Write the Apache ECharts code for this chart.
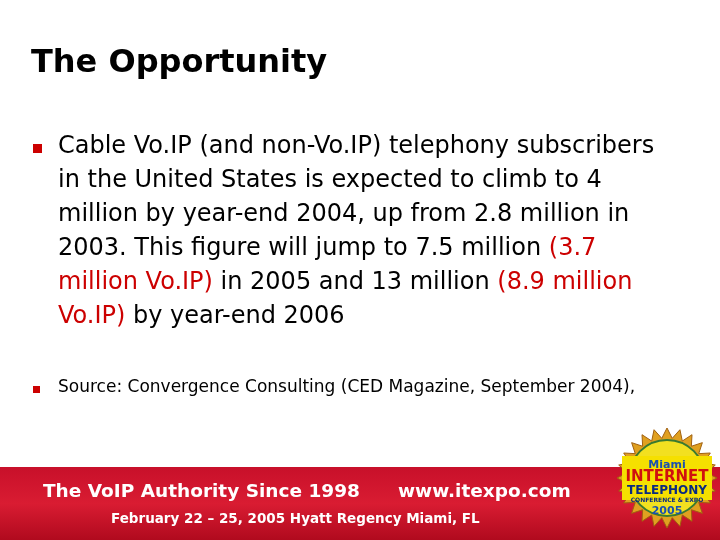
<!DOCTYPE html>
<html>
<head>
<meta charset="utf-8">
<script src="https://cdn.jsdelivr.net/npm/echarts@6/dist/echarts.min.js"></script>
<style>html,body{margin:0;padding:0;background:#fff}#main{width:720px;height:540px}</style>
</head>
<body>
<div id="main"></div>
<script>
var titleText = 'The Opportunity';
// each line: [text, isRed]
var bodyLines = [
  [['Cable Vo.IP (and non-Vo.IP) telephony subscribers', 0]],
  [['in the United States is expected to climb to 4', 0]],
  [['million by year-end 2004, up from 2.8 million in', 0]],
  [['2003. This figure will jump to 7.5 million ', 0], ['(3.7', 1]],
  [['million Vo.IP)', 1], [' in 2005 and 13 million ', 0], ['(8.9 million', 1]],
  [['Vo.IP)', 1], [' by year-end 2006', 0]]
];
var sourceText = 'Source: Convergence Consulting (CED Magazine, September 2004),';
var bannerLine1 = ['The VoIP Authority Since 1998', 'www.itexpo.com'];
var bannerLine2 = 'February 22 – 25, 2005 Hyatt Regency Miami, FL';
var badgeLines = ['Miami', 'INTERNET', 'TELEPHONY', 'CONFERENCE & EXPO', '2005'];

var chart = echarts.init(document.getElementById('main'));
var font = '"DejaVu Sans", Verdana, sans-serif';
var g = [];

g.push({type: 'text', left: 31, top: 48, style: {text: titleText, font: 'bold 32px ' + font, fill: '#000'}});

g.push({type: 'rect', shape: {x: 33, y: 144, width: 9, height: 9}, style: {fill: '#cc0000'}});
bodyLines.forEach(function (line, i) {
  var txt = line.map(function (s) { return '{' + (s[1] ? 'r' : 'k') + '|' + s[0] + '}'; }).join('');
  g.push({type: 'text', left: 58, top: 135 + i * 34, style: {
    text: txt, font: '24px ' + font,
    rich: {k: {fill: '#000', font: '24px ' + font}, r: {fill: '#cc0000', font: '24px ' + font}}
  }});
});

g.push({type: 'rect', shape: {x: 33, y: 386, width: 7, height: 7}, style: {fill: '#cc0000'}});
g.push({type: 'text', left: 58, top: 379, style: {text: sourceText, font: '17px ' + font, fill: '#000'}});

// banner
g.push({type: 'rect', shape: {x: 0, y: 467, width: 720, height: 73}, style: {
  fill: new echarts.graphic.LinearGradient(0, 0, 0, 1, [
    {offset: 0, color: '#c8102a'}, {offset: 0.5, color: '#d91c32'}, {offset: 1, color: '#b00a1e'}])
}});
var bannerStyle = {font: 'bold 18.5px ' + font, fill: '#fff', shadowColor: '#000', shadowBlur: 3, shadowOffsetX: 2, shadowOffsetY: 2};
g.push({type: 'text', left: 43, top: 483, style: Object.assign({text: bannerLine1[0]}, bannerStyle)});
g.push({type: 'text', left: 398, top: 483, style: Object.assign({text: bannerLine1[1]}, bannerStyle)});
g.push({type: 'text', left: 111, top: 512, style: Object.assign({text: bannerLine2}, bannerStyle, {font: 'bold 13.5px ' + font})});

// badge
var pts = [];
for (var k = 0; k < 48; k++) {
  var a = k / 48 * Math.PI * 2, r = k % 2 ? 40 : 50;
  pts.push([667 + r * Math.cos(a), 478 + r * Math.sin(a)]);
}
g.push({type: 'polygon', shape: {points: pts}, style: {fill: '#e0a020', stroke: '#a06010', lineWidth: 1}});
g.push({type: 'circle', shape: {cx: 667, cy: 478, r: 38}, style: {fill: '#f2e020', stroke: '#3a7a30', lineWidth: 2}});
g.push({type: 'rect', shape: {x: 622, y: 456, width: 90, height: 44}, style: {fill: '#f5e000'}});
var badgeStyle = [
  {y: 465, font: 'bold 11px ' + font, fill: '#1a50b0'},
  {y: 477, font: 'bold 15px ' + font, fill: '#d01010'},
  {y: 491, font: 'bold 12px ' + font, fill: '#0a2a80'},
  {y: 500, font: 'bold 6px ' + font, fill: '#0a2a80'},
  {y: 511, font: 'bold 11px ' + font, fill: '#1a50b0'}
];
badgeLines.forEach(function (t, i) {
  var s = badgeStyle[i];
  g.push({type: 'text', x: 667, y: s.y, style: {text: t, font: s.font, fill: s.fill, align: 'center', verticalAlign: 'middle'}});
});

chart.setOption({animation: false, graphic: g});
</script>
</body>
</html>
